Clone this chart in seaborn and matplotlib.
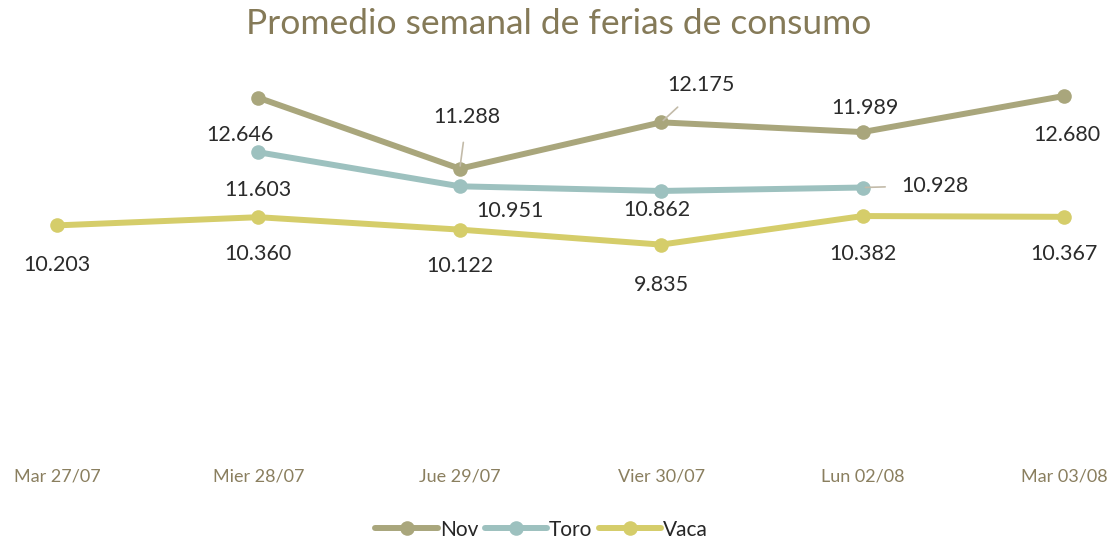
import matplotlib
matplotlib.use("Agg")
import matplotlib.pyplot as plt
import seaborn as sns
import pandas as pd
import numpy as np

sns.set_style("white")
plt.rcParams['font.family'] = ['Lato', 'DejaVu Sans']

days = ['Mar 27/07', 'Mier 28/07', 'Jue 29/07', 'Vier 30/07', 'Lun 02/08', 'Mar 03/08']
nov = [np.nan, 12.646, 11.288, 12.175, 11.989, 12.680]
toro = [np.nan, 11.603, 10.951, 10.862, 10.928, np.nan]
vaca = [10.203, 10.360, 10.122, 9.835, 10.382, 10.367]
series = ['Nov', 'Toro', 'Vaca']
colors = {'Nov': '#A9A67C', 'Toro': '#9DC1BF', 'Vaca': '#D5CD6A'}

df = pd.DataFrame({'Pos': range(len(days)), 'Nov': nov, 'Toro': toro, 'Vaca': vaca})
long = df.melt(id_vars='Pos', var_name='Serie', value_name='Valor').dropna()

fig = plt.figure(figsize=(11.17, 5.42), dpi=100)
ax = fig.add_axes([57 / 1117, 97 / 542, (1064 - 57) / 1117, 418 / 542])
sns.lineplot(data=long, x='Pos', y='Valor', hue='Serie', style='Serie',
             markers={'Nov': 'o', 'Toro': 'o', 'Vaca': 'o'}, dashes=False,
             palette=colors, linewidth=4.3, markersize=10.5, markeredgewidth=0,
             ax=ax, clip_on=False)

ax.set_xlim(0, 5)
ax.set_ylim(6, 14)
ax.set_xticks(range(len(days)))
ax.set_xticklabels(days)
ax.set_yticks([])
ax.set_xlabel('')
ax.set_ylabel('')
for s in ax.spines.values():
    s.set_visible(False)
ax.tick_params(axis='x', length=0, pad=17, labelsize=13, labelcolor='#8A7F5F')

# label offsets in pixels (dx, dy)
offsets = {
    'Nov': [None, (-18, -37), (7, 52), (40, 37), (2, 24), (3, -39)],
    'Toro': [None, (0, -38), (50, -25), (-4, -19), (72, 2), None],
    'Vaca': [(0, -40), (0, -37), (0, -36), (0, -40), (0, -38), (0, -37)],
}
leaders = {('Nov', 2), ('Nov', 3), ('Toro', 4)}
vals = {'Nov': nov, 'Toro': toro, 'Vaca': vaca}
for s in series:
    for i, v in enumerate(vals[s]):
        if offsets[s][i] is None:
            continue
        dx, dy = offsets[s][i]
        txt = f"{v:.3f}"
        if (s, i) in leaders:
            ax.annotate(txt, xy=(i, v), xytext=(dx, dy), textcoords='offset pixels',
                        ha='center', va='center', fontsize=15.5, color='#2B2B2B',
                        arrowprops=dict(arrowstyle='-', color='#C3BBA9', lw=1.2,
                                        shrinkA=9, shrinkB=2), annotation_clip=False)
        else:
            ax.annotate(txt, xy=(i, v), xytext=(dx, dy), textcoords='offset pixels',
                        ha='center', va='center', fontsize=15.5, color='#2B2B2B',
                        annotation_clip=False)

fig.suptitle('Promedio semanal de ferias de consumo', fontsize=25.5, color='#857A58',
             y=0.985, va='top')

handles, labels = ax.get_legend_handles_labels()
ax.legend(handles, labels, loc='lower center', bbox_to_anchor=(0.485, -0.03),
          bbox_transform=fig.transFigure, ncol=3, frameon=False, fontsize=15,
          handlelength=3.0, columnspacing=0.3, handletextpad=0.1)

fig.savefig('out.png', dpi=100)
